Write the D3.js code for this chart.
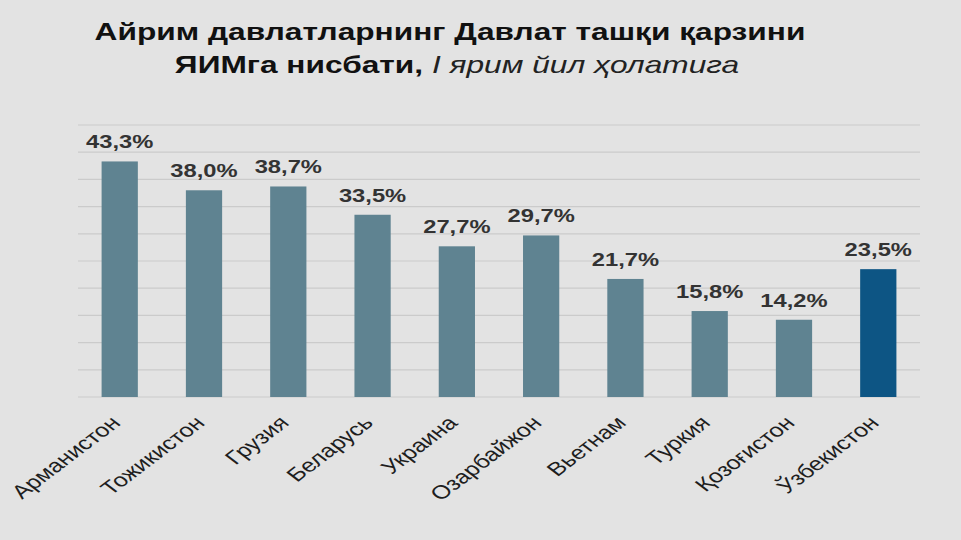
<!DOCTYPE html>
<html>
<head>
<meta charset="utf-8">
<script src="https://cdn.jsdelivr.net/npm/d3@7/dist/d3.min.js"></script>
<style>
  body { margin: 0; background: #e3e3e3; }
  svg { display: block; font-family: "Liberation Sans", Arial, sans-serif; }
</style>
</head>
<body>
<svg id="chart" width="961" height="540"></svg>
<script>
  // data
  const countries = ["Арманистон", "Тожикистон", "Грузия", "Беларусь", "Украина",
                     "Озарбайжон", "Вьетнам", "Туркия", "Қозоғистон", "Ўзбекистон"];
  const debtShare = [43.3, 38.0, 38.7, 33.5, 27.7, 29.7, 21.7, 15.8, 14.2, 23.5];
  const gridTicks = [0, 5, 10, 15, 20, 25, 30, 35, 40, 45, 50];

  const svg = d3.select('#chart');
  const W = 961, H = 540;
  const stretch = 1.32; // the source picture is widened, text included
  svg.append('rect').attr('width', W).attr('height', H).attr('fill', '#e3e3e3');

  const x = d3.scaleBand().domain(countries).range([78, 920]).paddingInner(0.57).paddingOuter(0.28);
  const y = d3.scaleLinear().domain([0, 50]).range([397, 125]);

  // gridlines
  svg.append('g').selectAll('line').data(gridTicks).join('line')
    .attr('x1', 78).attr('x2', 920)
    .attr('y1', d => y(d)).attr('y2', d => y(d))
    .attr('stroke', '#cbcbcb').attr('stroke-width', 1.2);

  // bars
  svg.append('g').selectAll('rect').data(countries).join('rect')
    .attr('x', d => x(d))
    .attr('y', (d, i) => y(debtShare[i]))
    .attr('width', x.bandwidth())
    .attr('height', (d, i) => y(0) - y(debtShare[i]))
    .attr('fill', (d, i) => i === countries.length - 1 ? '#0d5584' : '#5f8391');

  // value labels
  svg.append('g').selectAll('text').data(countries).join('text')
    .attr('transform', (d, i) => `translate(${x(d) + x.bandwidth() / 2},${y(debtShare[i]) - 13}) scale(${stretch},1)`)
    .attr('text-anchor', 'middle')
    .attr('font-size', 18).attr('font-weight', 'bold').attr('fill', '#333')
    .text((d, i) => d3.format('.1f')(debtShare[i]).replace('.', ',') + '%');

  // x axis labels
  const xAxis = d3.axisBottom(x).tickSize(0).tickPadding(0);
  const ax = svg.append('g').attr('transform', 'translate(0,397)').call(xAxis);
  ax.select('.domain').remove();
  ax.selectAll('text')
    .attr('font-family', '"Liberation Sans", Arial, sans-serif')
    .attr('font-size', 19).attr('fill', '#1e1e1e')
    .attr('text-anchor', 'end')
    .attr('dy', 0).attr('y', 0)
    .attr('transform', `translate(2,27) scale(${stretch},1) rotate(-45)`);

  // title
  svg.append('text').attr('transform', `translate(450,40) scale(${stretch},1)`).attr('text-anchor', 'middle')
    .attr('font-size', 24).attr('font-weight', 'bold').attr('fill', '#111')
    .text('Айрим давлатларнинг Давлат ташқи қарзини');
  const t2 = svg.append('text').attr('transform', `translate(457,73) scale(${stretch},1)`).attr('text-anchor', 'middle')
    .attr('font-size', 24).attr('fill', '#111');
  t2.append('tspan').attr('font-weight', 'bold').text('ЯИМга нисбати, ');
  t2.append('tspan').attr('font-style', 'italic').attr('fill', '#222').text('I ярим йил ҳолатига');
</script>
</body>
</html>
